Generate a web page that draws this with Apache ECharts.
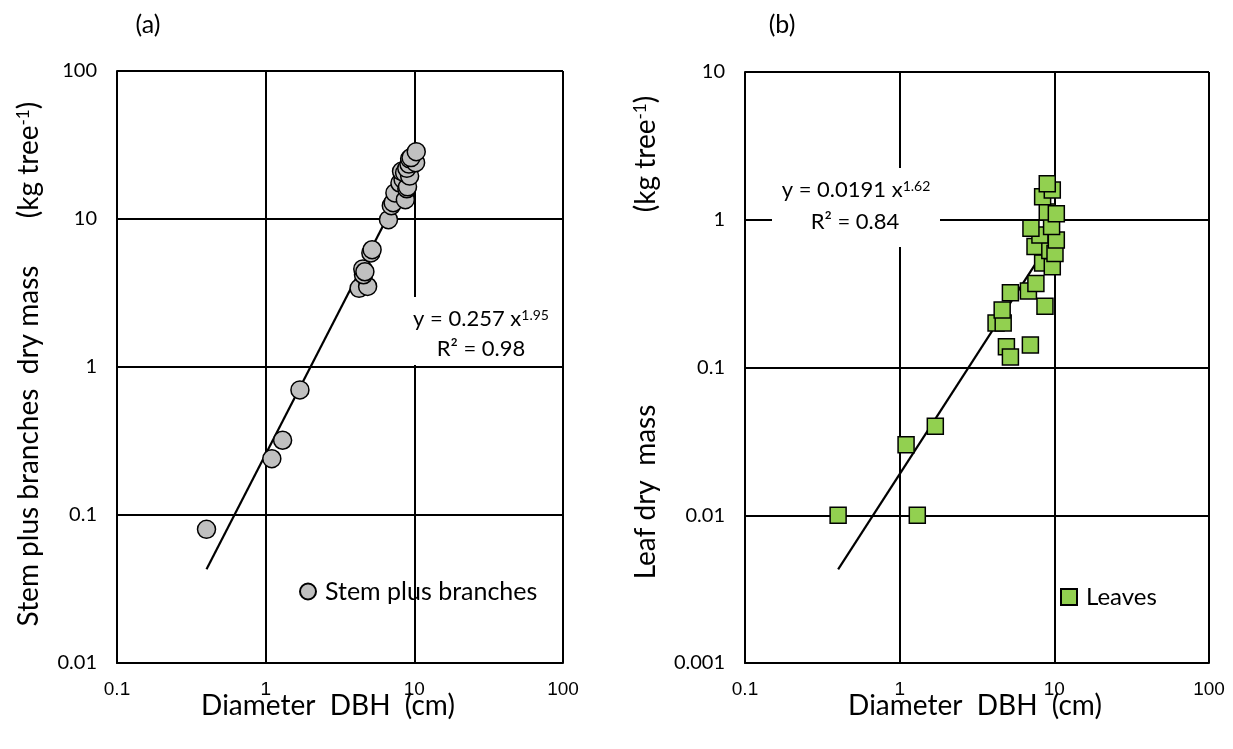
<!DOCTYPE html>
<html>
<head>
<meta charset="utf-8">
<script src="https://cdn.jsdelivr.net/npm/echarts@6/dist/echarts.min.js"></script>
<style>
  html, body { margin: 0; padding: 0; background: #fff; }
  #chart { width: 1233px; height: 749px; }
</style>
</head>
<body>
<div id="chart"></div>
<script>
// (a) stem plus branches: [DBH cm, dry mass kg/tree]
const stemPoints = [
  [0.40, 0.080], [1.10, 0.24], [1.30, 0.32], [1.70, 0.70],
  [4.25, 3.4], [4.85, 3.5], [4.55, 4.2], [4.50, 4.6], [4.65, 4.4],
  [5.10, 5.9], [5.20, 6.2],
  [6.70, 9.9], [7.00, 12.3], [7.20, 12.9], [7.40, 15.0],
  [8.0, 17.5], [8.4, 18.5], [8.7, 13.5], [8.9, 16.0], [9.0, 16.5],
  [8.2, 21.0], [8.6, 20.5], [9.3, 19.5], [8.9, 22.0], [9.2, 23.5],
  [9.3, 25.5], [10.2, 24.0], [9.5, 26.0], [10.3, 28.5]
]
// fitted line endpoints
const stemFit = [[0.40, 0.043], [10.4, 25.0]]

// (b) leaves
const leafPoints = [
  [0.40, 0.010], [1.30, 0.010], [1.10, 0.030], [1.70, 0.040],
  [4.9, 0.138], [5.2, 0.118], [7.0, 0.142],
  [4.2, 0.20], [4.67, 0.20], [4.6, 0.245], [5.2, 0.32], [8.7, 0.26],
  [6.8, 0.33], [7.6, 0.37], [8.4, 0.51], [9.7, 0.48],
  [7.5, 0.66], [9.35, 0.62], [10.1, 0.59], [10.3, 0.73],
  [8.07, 0.79], [7.06, 0.875], [9.6, 0.90],
  [9.0, 1.13], [10.3, 1.10], [8.4, 1.43], [9.7, 1.59], [9.0, 1.75]
]
const leafFit = [[0.40, 0.0043], [10.3, 0.83]]

const xTicks = ['0.1', '1', '10', '100']
const yTicksA = ['0.01', '0.1', '1', '10', '100']
const yTicksB = ['0.001', '0.01', '0.1', '1', '10']

const calibri = 'Lato, "Open Sans", sans-serif'
const arial = '"Liberation Sans", Arial, sans-serif'

const chart = echarts.init(document.getElementById('chart'))

const gridLine = { show: true, lineStyle: { color: '#000', width: 2 } }

const xAxisBase = (gridIndex) => ({
  type: 'log', logBase: 10, min: 0.1, max: 100, gridIndex,
  axisLine: { show: true, onZero: false, lineStyle: { color: '#000', width: 2 } },
  axisTick: { show: false },
  splitLine: gridLine,
  axisLabel: {
    color: '#000', fontFamily: arial, fontSize: 19, margin: 17,
    formatter: (v, i) => xTicks[i]
  }
})

const yAxisBase = (gridIndex, min, max, labels) => ({
  type: 'log', logBase: 10, min, max, gridIndex,
  axisLine: { show: true, onZero: false, lineStyle: { color: '#000', width: 2 } },
  axisTick: { show: false },
  splitLine: gridLine,
  axisLabel: {
    color: '#000', fontFamily: calibri, fontSize: 20, margin: 20,
    formatter: (v, i) => labels[i]
  }
})

const rich = {
  a: { fontFamily: calibri, fontSize: 28, color: '#000' },
  s: { fontFamily: calibri, fontSize: 17, color: '#000', verticalAlign: 'top' }
}
const eqRich = {
  a: { fontFamily: calibri, fontSize: 22, color: '#000' },
  s: { fontFamily: calibri, fontSize: 14, color: '#000', verticalAlign: 'top' }
}

const vText = (x, y, text) => ({
  type: 'text', x, y, rotation: Math.PI / 2,
  style: { text, rich, align: 'center', verticalAlign: 'middle' }
})

chart.setOption({
  animation: false,
  grid: [
    { left: 117, top: 71, width: 446, height: 592 },
    { left: 745, top: 72, width: 464, height: 591 }
  ],
  xAxis: [xAxisBase(0), xAxisBase(1)],
  yAxis: [
    yAxisBase(0, 0.01, 100, yTicksA),
    yAxisBase(1, 0.001, 10, yTicksB)
  ],
  legend: [
    {
      data: ['Stem plus branches'], left: 299, top: 579, padding: 0,
      itemWidth: 16, itemHeight: 16,
      textStyle: { fontFamily: calibri, fontSize: 25, color: '#000', padding: [0, 0, 0, 4] }
    },
    {
      data: ['Leaves'], left: 1060, top: 585, padding: 0,
      itemWidth: 16, itemHeight: 16, icon: 'rect',
      textStyle: { fontFamily: calibri, fontSize: 24, color: '#000', padding: [0, 0, 0, 4] }
    }
  ],
  graphic: [
    {
      type: 'text', x: 148, y: 25,
      style: { text: '(a)', font: '25px ' + calibri, fill: '#000', align: 'center', verticalAlign: 'middle' }
    },
    {
      type: 'text', x: 782, y: 25,
      style: { text: '(b)', font: '25px ' + calibri, fill: '#000', align: 'center', verticalAlign: 'middle' }
    },
    {
      type: 'text', x: 328, y: 706,
      style: { text: 'Diameter  DBH  (cm)', font: '28px ' + calibri, fill: '#000', align: 'center', verticalAlign: 'middle' }
    },
    {
      type: 'text', x: 975, y: 706,
      style: { text: 'Diameter  DBH  (cm)', font: '28px ' + calibri, fill: '#000', align: 'center', verticalAlign: 'middle' }
    },
    vText(29, 446, '{a|Stem plus branches  dry mass}'),
    vText(29, 160, '{a|(kg tree}{s|-1}{a|)}'),
    vText(646, 492, '{a|Leaf dry  mass}'),
    vText(646, 154, '{a|(kg tree}{s|-1}{a|)}'),
    // equation boxes
    { type: 'rect', z: 5, shape: { x: 400, y: 297, width: 158, height: 68 }, style: { fill: '#fff' } },
    {
      type: 'text', z: 6, x: 481, y: 319,
      style: { text: '{a|y = 0.257 x}{s|1.95}', rich: eqRich, align: 'center', verticalAlign: 'middle' }
    },
    {
      type: 'text', z: 6, x: 481, y: 349,
      style: { text: 'R² = 0.98', font: '22px ' + calibri, fill: '#000', align: 'center', verticalAlign: 'middle' }
    },
    { type: 'rect', z: 5, shape: { x: 772, y: 168, width: 168, height: 79 }, style: { fill: '#fff' } },
    {
      type: 'text', z: 6, x: 856, y: 190,
      style: { text: '{a|y = 0.0191 x}{s|1.62}', rich: eqRich, align: 'center', verticalAlign: 'middle' }
    },
    {
      type: 'text', z: 6, x: 855, y: 222,
      style: { text: 'R² = 0.84', font: '22px ' + calibri, fill: '#000', align: 'center', verticalAlign: 'middle' }
    }
  ],
  series: [
    {
      type: 'line', xAxisIndex: 0, yAxisIndex: 0, data: stemFit, z: 3,
      symbol: 'none', lineStyle: { color: '#000', width: 2.2 }, silent: true
    },
    {
      name: 'Stem plus branches', type: 'scatter', xAxisIndex: 0, yAxisIndex: 0, z: 4,
      data: stemPoints, symbol: 'circle', symbolSize: 18,
      itemStyle: { color: '#c0c0c0', borderColor: '#000', borderWidth: 1.5, opacity: 1 }
    },
    {
      type: 'line', xAxisIndex: 1, yAxisIndex: 1, data: leafFit, z: 3,
      symbol: 'none', lineStyle: { color: '#000', width: 2.2 }, silent: true
    },
    {
      name: 'Leaves', type: 'scatter', xAxisIndex: 1, yAxisIndex: 1, z: 4,
      data: leafPoints, symbol: 'rect', symbolSize: 16,
      itemStyle: { color: '#92d050', borderColor: '#000', borderWidth: 1.5, opacity: 1 }
    }
  ]
})

window.addEventListener('resize', () => chart.resize())
</script>
</body>
</html>
